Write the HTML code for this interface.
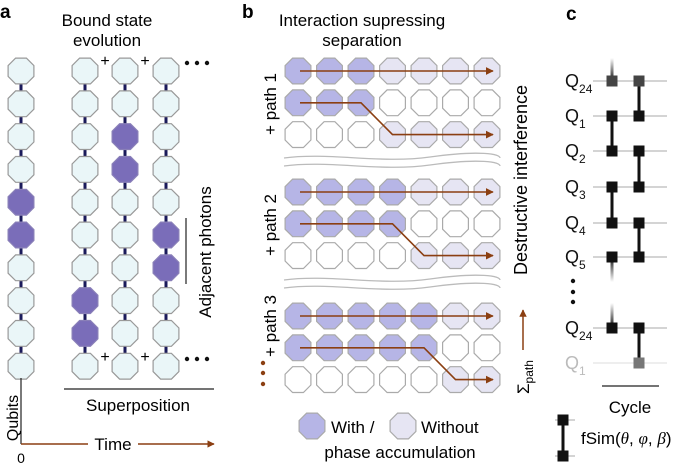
<!DOCTYPE html>
<html><head><meta charset="utf-8">
<style>
html,body{margin:0;padding:0;background:#fff;}
svg{display:block;font-family:"Liberation Sans",sans-serif;}
</style></head>
<body>
<svg id="fig" width="685" height="465" viewBox="0 0 685 465" xmlns="http://www.w3.org/2000/svg">
<defs>
<marker id="ah" viewBox="0 0 10 10" refX="9" refY="5" markerWidth="5" markerHeight="5" orient="auto"><path d="M0,0 L10,5 L0,10 z" fill="#8b3f12"/></marker>
<linearGradient id="fadeUp" x1="0" y1="1" x2="0" y2="0"><stop offset="0" stop-color="#111"/><stop offset="1" stop-color="#111" stop-opacity="0"/></linearGradient>
<linearGradient id="fadeDown" x1="0" y1="0" x2="0" y2="1"><stop offset="0" stop-color="#111"/><stop offset="1" stop-color="#111" stop-opacity="0"/></linearGradient>
</defs>
<!-- Panel a static -->
<text x="0" y="18" font-size="19" font-weight="bold">a</text>
<text x="107" y="26" font-size="17" text-anchor="middle"><tspan x="107">Bound state</tspan><tspan x="107" dy="20">evolution</tspan></text>
<g id="pa"></g>
<line x1="186" y1="218" x2="186" y2="284" stroke="#222" stroke-width="1.2"/>
<text transform="translate(211,252) rotate(-90)" font-size="17" text-anchor="middle">Adjacent photons</text>
<line x1="64" y1="389" x2="214" y2="389" stroke="#222" stroke-width="1.2"/>
<text x="138" y="411" font-size="17" text-anchor="middle">Superposition</text>
<line x1="21" y1="378" x2="21" y2="444" stroke="#222" stroke-width="1.2"/>
<text transform="translate(18,418) rotate(-90)" font-size="16" text-anchor="middle">Qubits</text>
<line x1="21" y1="444" x2="88" y2="444" stroke="#8b3f12" stroke-width="1.5"/>
<line x1="138" y1="444" x2="214" y2="444" stroke="#8b3f12" stroke-width="1.5" marker-end="url(#ah)"/>
<text x="113" y="450" font-size="17" text-anchor="middle">Time</text>
<text x="21" y="463" font-size="14" text-anchor="middle">0</text>

<!-- Panel b static -->
<text x="242" y="18" font-size="19" font-weight="bold">b</text>
<text x="362" y="26" font-size="17" text-anchor="middle"><tspan x="362">Interaction supressing</tspan><tspan x="362" dy="20">separation</tspan></text>
<g id="pb"></g>
<text transform="translate(276,104) rotate(-90)" font-size="17" text-anchor="middle">+ path 1</text>
<text transform="translate(276,225) rotate(-90)" font-size="17" text-anchor="middle">+ path 2</text>
<text transform="translate(276,326) rotate(-90)" font-size="17" text-anchor="middle">+ path 3</text>
<g fill="#8b3f12"><circle cx="263" cy="363" r="2.2"/><circle cx="263" cy="373" r="2.2"/><circle cx="263" cy="384" r="2.2"/></g>
<path d="M284,158 C330,152 380,164 430,157 S500,154 500,158 M284,166 C330,160 380,172 430,165 S500,162 500,166" fill="none" stroke="#bbb" stroke-width="1.3"/>
<path d="M284,280 C330,274 380,286 430,279 S500,276 500,280 M284,288 C330,282 380,294 430,287 S500,284 500,288" fill="none" stroke="#bbb" stroke-width="1.3"/>
<text transform="translate(527,180) rotate(-90)" font-size="18" text-anchor="middle">Destructive interference</text>
<line x1="523" y1="350" x2="523" y2="310" stroke="#8b3f12" stroke-width="1.5" marker-end="url(#ah)"/>
<text transform="translate(529,394) rotate(-90)" font-size="17">Σ<tspan font-size="12" dy="4">path</tspan></text>
<g id="legend"></g>
<text x="331" y="433" font-size="17">With /</text>
<text x="421" y="433" font-size="17">Without</text>
<text x="400" y="458" font-size="17" text-anchor="middle">phase accumulation</text>

<!-- Panel c -->
<text x="566" y="20" font-size="19" font-weight="bold">c</text>
<g id="pc"></g>
<g fill="#111"><circle cx="573" cy="281" r="2.2"/><circle cx="573" cy="292" r="2.2"/><circle cx="573" cy="302" r="2.2"/></g>
<line x1="602" y1="386" x2="659" y2="386" stroke="#222" stroke-width="1.2"/>
<text x="630" y="413" font-size="17" text-anchor="middle">Cycle</text>
<g>
<line x1="555" y1="420" x2="575" y2="420" stroke="#aaa"/><line x1="555" y1="456" x2="575" y2="456" stroke="#aaa"/>
<line x1="563" y1="420" x2="563" y2="456" stroke="#111" stroke-width="3"/>
<rect x="557.5" y="414.5" width="11" height="11" fill="#111"/><rect x="557.5" y="450.5" width="11" height="11" fill="#111"/>
</g>
<text x="581" y="444" font-size="17">fSim(<tspan font-family="Liberation Serif" font-style="italic">θ</tspan>, <tspan font-family="Liberation Serif" font-style="italic">φ</tspan>, <tspan font-family="Liberation Serif" font-style="italic">β</tspan>)</text>
</svg>
<script>
// Panel a data: index of excited qubits per column (rows 0..9)
const aColumns = [0, 1, 2, 3];
const aExcited = [[4, 5], [7, 8], [2, 3], [5, 6]];
const aRows = 10;
// Panel b data: number of sites with phase accumulation per path
const bPaths = [1, 2, 3];
const bPhaseSites = [3, 4, 5];
const bSites = 7;
// Panel c data
const cLabels = ['24', '1', '2', '3', '4', '5', '24', '1'];
const cGates1 = [[1, 2], [3, 4]];
const cGates2 = [[0, 1], [2, 3], [4, 5], [6, 7]];

const NS = 'http://www.w3.org/2000/svg';
function mk(tag, attrs, parent) {
  const e = document.createElementNS(NS, tag);
  for (const k in attrs) e.setAttribute(k, attrs[k]);
  parent.appendChild(e);
  return e;
}
function oct(cx, cy, r) {
  const p = [];
  for (let i = 0; i < 8; i++) { const a = (22.5 + 45 * i) * Math.PI / 180; p.push((cx + r * Math.cos(a)).toFixed(1) + ',' + (cy + r * Math.sin(a)).toFixed(1)); }
  return p.join(' ');
}
// Panel a
const pa = document.getElementById('pa');
const aX = c => [21, 85, 125, 166][c];
const aY = r => 71 + r * 32.8;
aColumns.forEach((c, ci) => {
  for (let r = 0; r < aRows - 1; r++) {
    const l = mk('rect', { x: aX(c) - 1.5, y: aY(r) + 10, width: 3, height: 13, fill: '#1a1a5a' }, pa);
    
    
  }
  for (let r = 0; r < aRows; r++) {
    const on = aExcited[ci].includes(r);
    const o = mk('polygon', { points: oct(aX(c), aY(r), 14), fill: on ? '#7a6db9' : '#eaf6f8', stroke: on ? '#8a80b8' : '#999', 'stroke-width': 1.2 }, pa);
    
    
  }
});
[61, 357].forEach(y => {
  [105, 145].forEach(x => {
    const t = mk('text', { x: x, y: y + 5, 'font-size': 16, 'text-anchor': 'middle' }, pa);
    t.textContent = '+';
    
    
  });
  [187, 197, 207].forEach(x => {
    const d = mk('circle', { cx: x, cy: y + 2, r: 2.2, fill: '#111' }, pa);
    
    
  });
});
// Panel b
const pb = document.getElementById('pb');
const bX = j => 298 + j * 31.5;
const groupY = [71, 192, 316];
const WITH = '#b6b5e6', WITHOUT = '#e6e5f3';
bPaths.forEach((p, gi) => {
  const k = bPhaseSites[gi];
  const y0 = groupY[gi], dy = 31.8;
  for (let row = 0; row < 3; row++) {
    for (let j = 0; j < bSites; j++) {
      let fill;
      if (row === 0) fill = j < k ? WITH : WITHOUT;
      else if (row === 1) fill = j < k ? WITH : '#fff';
      else fill = j < k ? '#fff' : WITHOUT;
      const o = mk('polygon', { points: oct(bX(j), y0 + row * dy, 14), fill: fill, stroke: '#aaa', 'stroke-width': 1.2 }, pb);
      
      
    }
  }
  const a1 = mk('line', { x1: bX(0) + 2, y1: y0, x2: bX(6) + 6, y2: y0, stroke: '#8b3f12', 'stroke-width': 1.6, 'marker-end': 'url(#ah)' }, pb);
  
  
  const a2 = mk('polyline', { points: `${bX(0) + 2},${y0 + dy} ${bX(k - 1)},${y0 + dy} ${bX(k)},${y0 + 2 * dy} ${bX(6) + 6},${y0 + 2 * dy}`, fill: 'none', stroke: '#8b3f12', 'stroke-width': 1.6, 'marker-end': 'url(#ah)' }, pb);
  
  
});
const lg = document.getElementById('legend');
const lw = mk('polygon', { points: oct(312, 426, 14), fill: WITH, stroke: '#aaa', 'stroke-width': 1.2 }, lg);


const lo = mk('polygon', { points: oct(403, 426, 14), fill: WITHOUT, stroke: '#aaa', 'stroke-width': 1.2 }, lg);


// Panel c
const pc = document.getElementById('pc');
const cY = i => [81, 116, 151, 187, 223, 257, 328, 363][i];
const g1 = 612, g2 = 639;
cLabels.forEach((s, i) => {
  const faded = i === 7;
  const ln = mk('line', { x1: 593, y1: cY(i), x2: 667, y2: cY(i), stroke: faded ? '#ddd' : '#aaa', 'stroke-width': 1 }, pc);
  
  
  const t = mk('text', { x: 565, y: cY(i) + 6, 'font-size': 18, fill: faded ? '#bbb' : '#111' }, pc);
  t.innerHTML = 'Q<tspan font-size="12" dy="6">' + s + '</tspan>';
  
  
});
function sq(x, y, fill) {
  const r = mk('rect', { x: x - 5.5, y: y - 5.5, width: 11, height: 11, fill: fill }, pc);
  
  
}
function bar(x, y1, y2, stroke) {
  const l = mk('line', { x1: x, y1: y1, x2: x, y2: y2, stroke: stroke, 'stroke-width': 3 }, pc);
  
  
}
cGates1.forEach(([a, b]) => { bar(g1, cY(a), cY(b), '#111'); sq(g1, cY(a), '#111'); sq(g1, cY(b), '#111'); });
cGates2.forEach(([a, b]) => {
  bar(g2, cY(a), cY(b), '#111');
  sq(g2, cY(a), a === 0 ? '#444' : '#111');
  sq(g2, cY(b), b === 7 ? '#777' : '#111');
});
// faded partial gates in column 1
mk('rect', { x: g1 - 1.5, y: 58, width: 3, height: 23, fill: 'url(#fadeUp)' }, pc);
sq(g1, cY(0), '#444');
mk('rect', { x: g1 - 1.5, y: cY(5), width: 3, height: 25, fill: 'url(#fadeDown)' }, pc);
sq(g1, cY(5), '#111');
mk('rect', { x: g1 - 1.5, y: cY(6) - 25, width: 3, height: 25, fill: 'url(#fadeUp)' }, pc);
sq(g1, cY(6), '#111');
</script>
</body></html>
